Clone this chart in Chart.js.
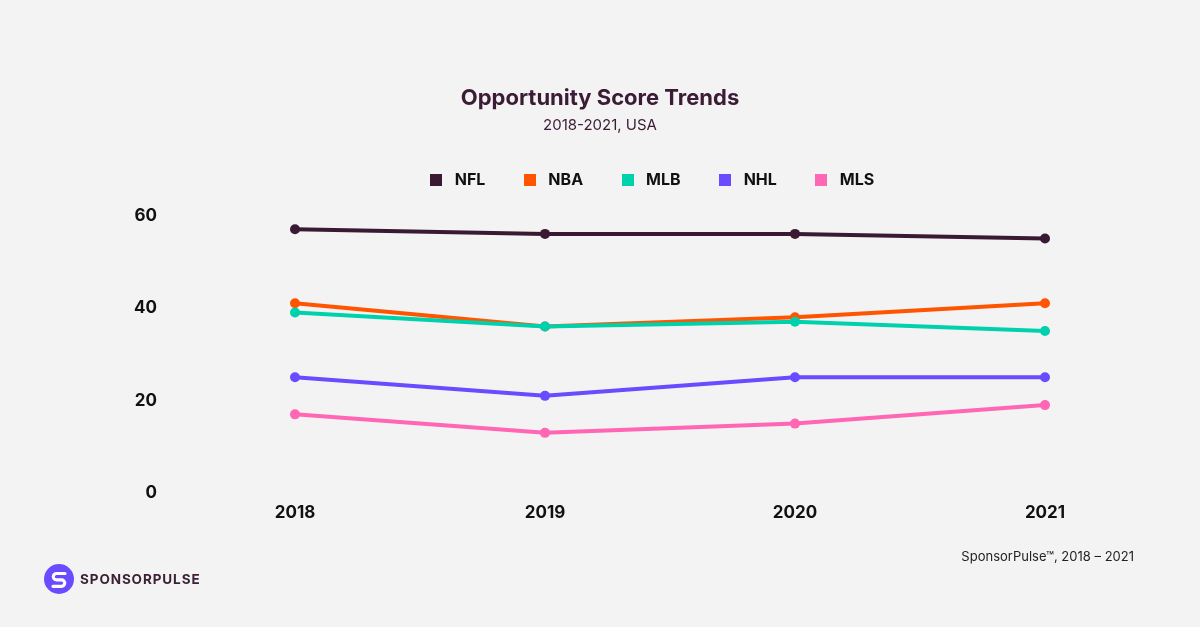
<!DOCTYPE html>
<html>
<head>
<meta charset="utf-8">
<script src="https://cdn.jsdelivr.net/npm/chart.js@4.4.1/dist/chart.umd.min.js"></script>
<style>
  html, body { margin: 0; padding: 0; background: #f3f3f3; }
  #wrap { position: relative; width: 1200px; height: 627px; overflow: hidden; background: #f3f3f3; }
  #c { position: absolute; left: 0; top: 0; }
  #source { position: absolute; right: 66px; top: 548px; font-family: Inter, "DejaVu Sans", sans-serif; font-size: 13px; color: #222; }
  #logo { position: absolute; left: 44px; top: 564px; display: flex; align-items: center; }
  #logo span { margin-left: 6px; font-family: Inter, sans-serif; font-weight: 700; font-size: 13.5px; letter-spacing: 0.9px; color: #3b1f35; }
</style>
</head>
<body>
<div id="wrap">
  <canvas id="c" width="1200" height="627"></canvas>
  <div id="source">SponsorPulse™, 2018 – 2021</div>
  <div id="logo">
    <svg width="30" height="30" viewBox="0 0 30 30">
      <circle cx="15" cy="15" r="15" fill="#6b4bff"/>
      <path d="M21 9.5 H12.5 A3.2 3.2 0 0 0 12.5 15.9 H17.5 A3.2 3.2 0 0 1 17.5 22.3 H9" fill="none" stroke="#ffffff" stroke-width="3.2" stroke-linecap="round"/>
    </svg>
    <span>SPONSORPULSE</span>
  </div>
</div>
<script>
const years = ['2018', '2019', '2020', '2021'];
const seriesNames = ['NFL', 'NBA', 'MLB', 'NHL', 'MLS'];
const nfl = [57, 56, 56, 55];
const nba = [41, 36, 38, 41];
const mlb = [39, 36, 37, 35];
const nhl = [25, 21, 25, 25];
const mls = [17, 13, 15, 19];
const yTicks = [0, 20, 40, 60];
const colors = ['#3a1a33', '#ff5500', '#00d1ad', '#6a4bff', '#ff66b3'];

const values = [nfl, nba, mlb, nhl, mls];
const datasets = values.map((v, i) => ({
  label: seriesNames[i],
  data: v,
  borderColor: colors[i],
  backgroundColor: colors[i],
  pointBackgroundColor: colors[i],
  pointBorderColor: colors[i],
  borderWidth: 4,
  pointRadius: 5,
  pointBorderWidth: 0,
  tension: 0,
  order: seriesNames[i] === 'MLB' ? 0 : 1
}));

function squareImage(color) {
  const cv = document.createElement('canvas');
  cv.width = 12; cv.height = 12;
  const c = cv.getContext('2d');
  c.fillStyle = color;
  c.fillRect(0, 0, 12, 12);
  return cv;
}
const squares = colors.map(squareImage);

const legendTweak = {
  id: 'legendTweak',
  beforeLayout(chart) {
    const lg = chart.legend;
    if (lg && !lg._tweaked) {
      lg._tweaked = true;
      const origFit = lg.fit.bind(lg);
      lg.fit = function () { origFit(); this.height = 81; };
      const origDraw = lg.draw.bind(lg);
      lg.draw = function () {
        const ctx = this.ctx;
        ctx.save();
        ctx.translate(50, 4);
        origDraw();
        ctx.restore();
      };
    }
  }
};

const blankAxis = (position, width, weight) => ({
  type: 'linear',
  position,
  weight,
  display: true,
  grid: { display: false, drawTicks: false },
  border: { display: false },
  ticks: { display: false, padding: 0 },
  afterFit(scale) { scale.width = width; }
});

new Chart(document.getElementById('c'), {
  type: 'line',
  data: { labels: years, datasets },
  plugins: [legendTweak],
  options: {
    responsive: false,
    animation: false,
    layout: { padding: { left: 120, right: 120, top: 0, bottom: 0 } },
    plugins: {
      tooltip: { enabled: false },
      title: {
        display: true,
        text: 'Opportunity Score Trends',
        color: '#3b1b35',
        font: { family: 'Inter', size: 22, weight: '700', lineHeight: 1.2 },
        padding: { top: 85, bottom: 0 }
      },
      subtitle: {
        display: true,
        text: '2018-2021, USA',
        color: '#3b1b35',
        font: { family: 'Inter', size: 15, weight: '400', lineHeight: 1.2 },
        padding: { top: 5, bottom: 0 }
      },
      legend: {
        display: true,
        position: 'top',
        labels: {
          usePointStyle: true,
          pointStyleWidth: 21,
          boxHeight: 12,
          padding: 34,
          color: '#111111',
          font: { family: 'Inter', size: 16, weight: '700' },
          sort: (a, b) => a.datasetIndex - b.datasetIndex,
          generateLabels(chart) {
            const items = Chart.defaults.plugins.legend.labels.generateLabels(chart);
            return items.map(it => Object.assign(it, {
              pointStyle: squares[it.datasetIndex],
              lineWidth: 0
            }));
          }
        }
      }
    },
    scales: {
      x: {
        grid: { display: false, drawTicks: false },
        border: { display: false },
        ticks: {
          color: '#111111',
          padding: 10,
          font: { family: 'Inter', size: 17, weight: '700', lineHeight: 1.2 }
        },
        afterFit(scale) { scale.height = 134; }
      },
      y: {
        min: 0,
        max: 60,
        weight: 1,
        grid: { display: false, drawTicks: false },
        border: { display: false },
        afterBuildTicks(scale) { scale.ticks = yTicks.map(v => ({ value: v })); },
        ticks: {
          color: '#111111',
          padding: 8,
          font: { family: 'Inter', size: 17, weight: '700' }
        },
        afterFit(scale) { scale.width = 45; }
      },
      yGap: blankAxis('left', 130, 0),
      yRight: blankAxis('right', 35, 0)
    }
  }
});
</script>
</body>
</html>
